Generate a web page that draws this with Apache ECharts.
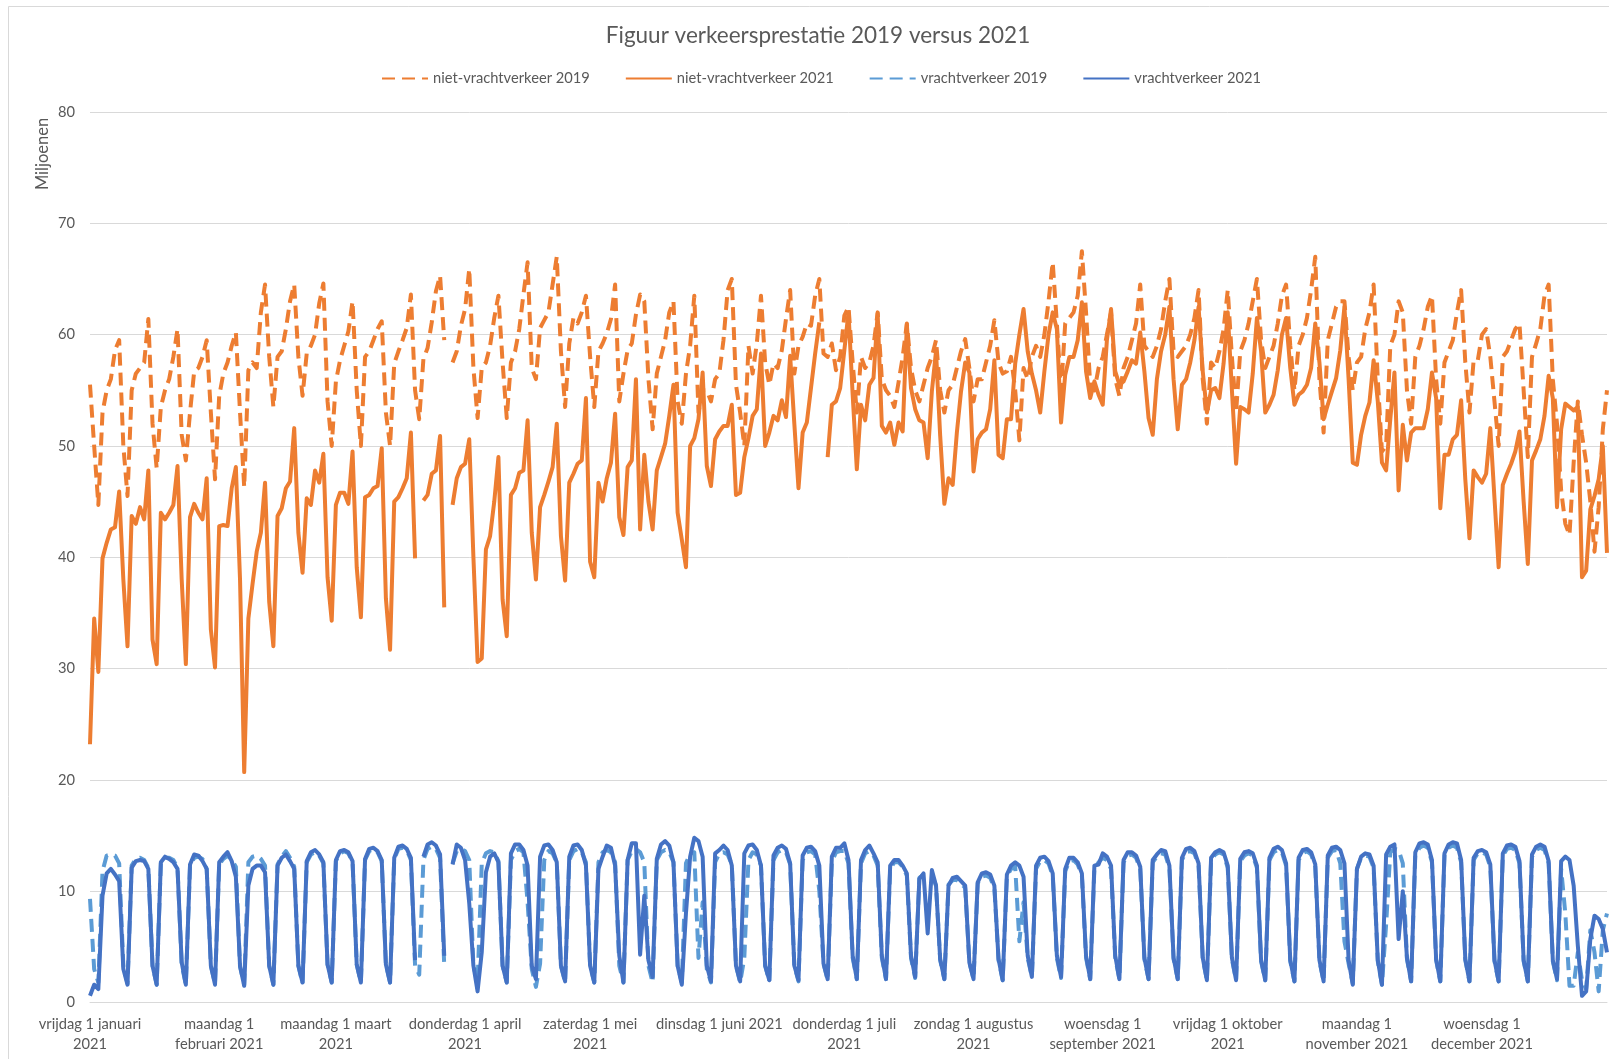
<!DOCTYPE html>
<html><head><meta charset="utf-8">
<script src="https://cdn.jsdelivr.net/npm/echarts@6/dist/echarts.min.js"></script>
<style>html,body{margin:0;padding:0;background:#fff}#c{width:1609px;height:1059px}</style>
</head><body><div id="c"></div>
<script>
const chartTitle = 'Figuur verkeersprestatie 2019 versus 2021';
const yAxisName = 'Miljoenen';
const seriesNames = ['niet-vrachtverkeer 2019', 'niet-vrachtverkeer 2021', 'vrachtverkeer 2019', 'vrachtverkeer 2021'];
const monthLabels = [
  'vrijdag 1 januari\n2021', 'maandag 1\nfebruari 2021', 'maandag 1 maart\n2021', 'donderdag 1 april\n2021',
  'zaterdag 1 mei\n2021', 'dinsdag 1 juni 2021', 'donderdag 1 juli\n2021', 'zondag 1 augustus\n2021',
  'woensdag 1\nseptember 2021', 'vrijdag 1 oktober\n2021', 'maandag 1\nnovember 2021', 'woensdag 1\ndecember 2021'
];
const yTicks = { min: 0, max: 80, step: 10 };

// one value per day of 2021 (1 jan .. 31 dec); rows are Monday..Sunday weeks
const nietVracht2019 = [55.5,50.0,44.7,
53.0,55.0,56.0,58.6,59.5,50.0,45.5,
55.0,56.5,57.0,57.5,61.4,52.0,48.0,
53.5,55.0,56.0,58.0,60.5,51.0,48.7,
53.0,56.7,57.0,58.0,59.5,53.0,47.0,
54.5,56.5,57.5,59.0,60.2,53.0,46.3,
56.8,57.5,57.0,62.0,64.5,58.0,53.5,
58.0,58.5,60.5,63.0,64.5,58.0,54.5,
58.3,59.0,60.0,62.8,64.6,54.0,50.0,
55.8,57.7,59.0,60.3,63.0,55.0,50.0,
58.0,58.5,59.5,60.5,61.2,53.0,50.0,
57.4,58.5,59.5,60.6,63.6,55.0,52.4,
57.8,58.8,61.1,63.9,65.3,59.5,null,
57.5,58.5,60.8,62.3,65.9,57.0,52.5,
57.0,57.5,59.0,61.5,63.5,57.5,52.5,
57.5,58.5,60.5,63.6,66.5,57.0,56.0,
60.6,61.3,62.0,64.5,67.0,58.5,53.5,
59.2,61.5,61.0,62.0,63.5,58.0,53.5,
58.5,59.2,60.1,61.4,64.5,54.0,56.5,
58.6,59.2,61.8,63.6,63.0,56.0,51.5,
56.5,58.0,59.5,62.0,63.0,54.0,52.0,
56.5,59.0,63.5,53.0,55.0,55.0,54.0,
56.0,56.5,59.5,64.0,65.0,55.5,53.0,
50.0,59.0,56.5,59.2,63.5,57.5,55.5,
57.4,57.0,58.6,61.4,64.0,56.5,59.0,
59.8,61.0,60.8,63.5,65.0,58.3,58.0,
59.2,56.8,58.0,61.7,62.5,57.5,53.0,
58.0,57.0,57.5,59.0,62.0,56.0,55.0,
54.5,53.5,55.7,58.0,61.0,57.0,55.0,
54.0,55.5,57.0,58.0,59.5,55.0,53.0,
55.0,55.5,57.0,58.5,59.6,57.0,54.0,
56.0,56.0,57.5,59.0,61.3,57.5,56.5,
56.7,58.0,55.0,50.5,57.0,56.0,58.0,
59.0,58.0,60.0,63.0,66.5,61.0,55.0,
61.0,61.5,62.0,63.5,67.5,62.0,55.5,
55.0,57.0,58.0,60.0,62.0,56.0,54.5,
57.0,58.0,59.5,61.0,64.5,59.0,58.5,
58.0,59.0,60.5,63.0,65.0,58.5,58.0,
58.5,59.0,60.0,61.5,64.0,56.0,52.0,
57.5,57.0,58.5,60.5,64.0,58.0,53.0,
58.5,59.5,61.0,63.0,65.0,59.5,57.0,
58.0,59.0,61.0,63.5,64.5,59.0,55.0,
59.0,60.0,61.5,64.0,67.0,56.0,51.2,
59.5,61.0,62.5,63.0,63.0,58.0,55.0,
57.5,58.0,60.5,62.0,64.5,56.0,49.5,
50.0,59.0,60.0,63.0,62.0,55.0,52.0,
58.0,59.0,60.5,62.5,63.5,56.0,52.0,
57.5,58.5,59.5,62.0,64.0,57.5,53.0,
57.7,57.7,60.0,60.5,58.0,54.0,50.0,
58.0,58.5,59.5,60.5,61.0,55.0,49.0,
58.0,59.2,60.5,63.5,64.5,56.0,52.0,
46.0,43.0,42.0,48.5,54.0,51.0,48.5,
45.0,40.5,44.5,51.5,55.0];

const nietVracht2021 = [23.2,34.5,29.7,
39.9,41.3,42.5,42.7,45.9,38.0,32.0,
43.7,43.0,44.5,43.4,47.8,32.6,30.4,
44.0,43.4,44.0,44.7,48.2,38.0,30.4,
43.6,44.8,44.0,43.4,47.1,33.5,30.1,
42.8,42.9,42.8,46.2,48.1,38.0,20.7,
34.5,37.6,40.5,42.2,46.7,36.0,32.0,
43.7,44.4,46.2,46.8,51.6,42.2,38.6,
45.3,44.7,47.8,46.7,49.3,38.2,34.3,
44.7,45.8,45.8,44.8,49.5,39.1,34.6,
45.4,45.6,46.2,46.4,49.8,36.3,31.7,
45.0,45.4,46.2,47.1,51.2,39.9,null,
45.1,45.6,47.5,47.8,50.9,35.5,null,
44.7,47.1,48.1,48.4,50.6,40.0,30.6,
30.9,40.7,41.9,45.0,49.0,36.2,32.9,
45.6,46.2,47.6,47.8,52.3,42.2,38.0,
44.5,45.6,46.8,48.1,52.0,41.9,37.9,
46.7,47.5,48.4,48.7,54.3,39.6,38.2,
46.7,45.0,47.1,48.5,52.9,43.6,42.0,
48.1,48.7,56.0,42.5,49.2,45.0,42.5,
47.8,49.0,50.2,52.7,55.5,44.0,41.6,
39.1,50.0,50.7,52.4,56.6,48.2,46.4,
50.6,51.3,51.8,51.8,53.7,45.6,45.8,
49.0,50.7,52.7,53.3,58.3,50.0,51.2,
52.7,52.3,54.1,52.6,58.1,52.0,46.2,
51.2,52.1,55.2,58.3,61.1,null,49.0,
53.7,54.0,55.2,58.6,62.0,54.6,47.9,
53.7,52.3,55.5,56.1,61.9,51.8,51.2,
52.1,50.1,52.1,51.3,60.9,55.2,53.3,
52.3,52.1,48.9,54.9,58.5,50.9,44.8,
47.1,46.5,51.2,54.9,57.5,56.6,47.7,
50.6,51.2,51.5,53.3,57.7,49.2,48.9,
52.4,52.4,57.4,60.0,62.3,58.5,56.5,
55.0,53.0,56.7,60.0,62.0,60.5,52.1,
56.4,58.0,58.0,59.5,62.9,56.7,54.3,
55.8,54.6,53.7,59.5,62.3,56.7,55.5,
55.8,56.7,57.7,57.4,60.2,56.7,52.5,
51.0,56.0,58.5,60.0,62.5,56.0,51.5,
55.5,56.0,57.5,59.5,62.5,56.7,53.0,
55.0,55.2,54.3,57.4,62.0,55.0,48.4,
53.5,53.3,53.0,56.5,61.5,58.5,53.0,
53.7,54.6,56.8,60.0,61.5,57.0,53.7,
54.6,54.9,55.5,57.0,61.0,57.5,52.4,
53.7,54.9,56.1,58.6,62.5,56.0,48.5,
48.3,51.0,52.7,53.9,57.7,54.0,48.5,
47.8,52.4,56.6,46.0,51.9,48.7,51.2,
51.6,51.6,51.6,53.3,56.6,54.3,44.4,
49.2,49.2,50.6,51.0,54.1,47.0,41.7,
47.8,47.2,46.7,47.5,51.6,45.3,39.1,
46.5,47.5,48.4,49.5,51.3,45.0,39.4,
48.7,49.6,50.6,52.7,56.3,54.3,44.5,
51.5,53.8,53.5,53.2,53.5,38.2,38.8,
44.3,45.5,47.0,50.0,40.4];

const vracht2019 = [9.3,3.0,1.8,
11.8,13.2,13.3,13.2,12.5,3.3,1.7,
12.3,12.9,13.0,12.8,12.1,3.3,1.6,
12.5,13.0,13.0,12.8,12.1,3.4,1.6,
12.3,13.0,13.1,12.9,12.0,3.3,1.7,
12.4,12.9,13.2,12.8,12.2,3.2,1.6,
12.6,13.1,13.2,12.9,12.3,3.3,1.6,
12.4,13.1,13.6,13.0,12.2,3.3,1.7,
12.6,13.3,13.5,13.2,12.5,3.4,1.8,
12.7,13.4,13.6,13.4,12.6,3.4,1.8,
12.8,13.6,13.8,13.5,12.7,3.4,1.8,
12.9,13.8,13.9,13.7,12.8,3.3,2.5,
12.8,13.8,14.0,13.8,13.0,3.3,null,
12.5,13.6,13.8,13.6,12.8,3.3,1.8,
12.5,13.4,13.6,13.5,12.7,3.3,1.8,
12.8,13.6,13.8,13.5,9.0,3.0,1.4,
3.5,12.8,13.6,13.4,12.6,3.3,1.8,
12.8,13.6,13.8,13.5,12.6,3.3,1.8,
12.6,13.5,13.7,13.5,12.6,3.3,1.8,
12.8,13.6,13.8,13.5,12.6,3.3,1.8,
12.8,13.5,13.7,13.5,12.6,3.3,1.8,
12.5,13.4,13.5,4.0,9.0,3.0,1.8,
12.6,13.4,13.5,13.3,12.4,3.3,1.8,
4.0,12.8,13.5,13.3,12.3,3.3,1.9,
12.8,13.5,13.7,13.5,12.4,3.3,1.9,
12.8,13.5,13.6,13.3,10.0,3.5,2.0,
12.6,13.5,13.6,13.6,12.5,4.0,2.1,
12.5,13.4,13.6,13.2,12.3,4.0,2.1,
12.0,12.6,12.6,12.2,11.4,4.0,2.2,
11.2,11.5,11.6,11.5,10.5,3.8,2.1,
10.6,11.0,11.0,10.7,10.3,3.6,2.1,
10.7,11.3,11.4,11.2,10.3,3.8,2.0,
11.3,12.0,12.2,5.5,9.0,4.0,2.3,
12.0,12.7,12.8,12.5,11.4,4.0,2.2,
11.8,12.7,12.8,12.4,11.4,4.0,2.1,
12.0,12.6,13.0,12.8,12.0,4.0,2.1,
12.6,13.2,13.3,13.0,12.0,3.9,2.1,
12.6,13.1,13.4,13.3,12.1,3.9,2.1,
12.8,13.5,13.6,13.4,12.3,3.9,2.0,
12.7,13.3,13.5,13.3,12.1,3.9,2.0,
12.7,13.2,13.4,13.2,12.1,3.7,2.0,
12.8,13.5,13.7,13.5,12.3,3.7,1.9,
12.8,13.4,13.6,13.3,12.2,3.7,1.9,
13.0,13.6,13.7,12.5,5.5,3.5,1.7,
12.0,13.0,13.2,13.1,12.1,3.7,1.6,
7.0,13.5,13.8,13.7,12.5,3.9,1.9,
13.2,13.9,14.1,13.9,12.6,3.8,1.9,
13.2,13.9,14.1,13.9,12.6,3.8,1.9,
12.8,13.4,13.5,13.3,12.2,3.7,1.9,
13.2,13.8,13.9,13.7,12.5,3.7,1.9,
13.1,13.7,13.9,13.7,12.5,3.7,2.0,
12.0,8.0,1.5,1.5,4.5,2.0,1.2,
6.5,4.5,1.0,6.5,8.0];

const vracht2021 = [0.6,1.6,1.2,
9.6,11.6,12.0,11.5,10.9,3.0,1.6,
12.1,12.7,12.8,12.7,12.0,3.3,1.6,
12.6,13.1,12.9,12.6,12.0,3.6,1.6,
12.4,13.3,13.2,12.7,12.0,3.3,1.6,
12.6,13.1,13.5,12.7,11.3,3.3,1.5,
10.5,12.0,12.3,12.3,11.7,3.3,1.6,
12.3,13.0,13.3,12.7,12.0,3.3,1.8,
12.7,13.5,13.7,13.3,12.6,3.4,1.8,
12.8,13.6,13.7,13.5,12.7,3.4,1.8,
12.9,13.8,13.9,13.6,12.8,3.4,1.8,
13.0,14.0,14.1,13.8,13.0,3.8,null,
13.1,14.2,14.4,14.1,13.3,4.2,null,
12.4,14.2,13.9,12.8,8.9,3.3,1.0,
4.5,11.7,13.1,13.4,12.6,3.3,1.8,
13.4,14.2,14.2,13.7,12.3,3.3,2.1,
13.1,14.1,14.2,13.7,12.6,3.3,1.9,
13.1,14.1,14.2,13.7,12.3,3.3,1.8,
12.0,13.1,14.1,13.9,12.3,4.2,1.8,
12.8,14.3,14.3,4.3,9.6,3.8,2.3,
12.9,14.2,14.5,14.1,12.6,3.3,1.6,
8.0,13.1,14.8,14.5,13.1,3.3,1.9,
13.4,13.7,14.1,13.7,12.3,3.3,1.9,
13.4,14.1,14.2,13.7,12.3,3.3,2.0,
13.2,13.9,14.1,13.8,12.5,3.3,2.0,
13.2,13.9,14.0,13.6,12.3,3.5,2.1,
13.1,13.9,13.9,14.3,12.8,4.2,2.1,
12.8,13.7,14.1,13.4,12.6,4.2,2.1,
12.3,12.8,12.8,12.3,11.6,4.2,2.3,
11.1,11.6,6.2,11.9,10.5,3.9,2.1,
10.5,11.2,11.3,10.9,10.5,3.6,2.1,
10.8,11.6,11.7,11.5,10.5,3.9,2.0,
11.5,12.3,12.6,12.3,11.3,4.2,2.3,
12.3,13.0,13.1,12.7,11.6,4.2,2.3,
12.0,13.0,13.0,12.6,11.6,4.2,2.1,
12.3,12.4,13.4,13.1,12.3,4.2,2.1,
12.8,13.5,13.5,13.2,12.2,4.0,2.1,
12.8,13.3,13.7,13.6,12.3,4.0,2.1,
13.0,13.8,13.9,13.6,12.5,4.0,2.0,
13.0,13.5,13.7,13.5,12.3,4.0,2.0,
12.9,13.5,13.6,13.4,12.3,3.8,2.0,
13.0,13.8,14.0,13.7,12.5,3.8,1.9,
13.0,13.7,13.8,13.5,12.4,3.8,1.9,
13.2,13.9,14.0,13.7,12.5,3.8,1.6,
12.0,13.1,13.4,13.3,12.3,3.8,1.6,
13.3,14.0,14.2,5.7,10.0,4.0,1.9,
13.5,14.3,14.4,14.2,12.8,3.9,1.9,
13.4,14.2,14.4,14.3,12.8,3.9,1.9,
13.0,13.6,13.7,13.5,12.4,3.8,1.9,
13.4,14.1,14.2,14.0,12.7,3.8,1.9,
13.3,14.0,14.2,14.0,12.7,3.8,2.1,
12.7,13.1,12.8,10.5,5.1,0.6,1.0,
5.7,7.8,7.5,6.6,4.5];

// category axis: the days of 2021
const categories = [];
for (let i = 0; i < nietVracht2021.length; i++) {
  const d = new Date(Date.UTC(2021, 0, 1 + i));
  categories.push(d.toISOString().slice(0, 10));
}

const FONT = 'Lato, "Open Sans", sans-serif';
const TXT = '#595959';
const ORANGE = '#ED7D31', BLUE_LIGHT = '#5B9BD5', BLUE = '#4472C4';
const dash = [13, 7];

function mkSeries(name, data, color, dashed) {
  return {
    name: name, type: 'line', data: data, symbol: 'none', showSymbol: false,
    connectNulls: false, smooth: false,
    lineStyle: { color: color, width: 4, type: dashed ? dash : 'solid', cap: 'butt', join: 'round' },
    itemStyle: { color: color },
    emphasis: { disabled: true }
  };
}

const chart = echarts.init(document.getElementById('c'), null, { renderer: 'canvas' });
chart.setOption({
  animation: false,
  backgroundColor: '#ffffff',
  textStyle: { fontFamily: FONT },
  graphic: [
    { type: 'rect', silent: true, shape: { x: 8.5, y: 6.5, width: 1700, height: 1100 },
      style: { fill: 'none', stroke: '#d9d9d9', lineWidth: 1 } },
    { type: 'text', silent: true, x: 818, y: 36,
      style: { text: chartTitle, textAlign: 'center', textVerticalAlign: 'middle',
               fontFamily: FONT, fontSize: 22.5, fill: TXT } },
    { type: 'text', silent: true, x: 43, y: 154, rotation: Math.PI / 2,
      style: { text: yAxisName, textAlign: 'center', textVerticalAlign: 'middle',
               fontFamily: FONT, fontSize: 16.5, fill: TXT } }
  ],
  legend: {
    data: seriesNames, top: 66, left: 376, itemWidth: 46, itemHeight: 14, itemGap: 35,
    itemStyle: { opacity: 0 },
    textStyle: { fontFamily: FONT, fontSize: 14.7, color: TXT }, selectedMode: false
  },
  grid: { left: 90, right: 2, top: 112, bottom: 56.5, containLabel: false },
  xAxis: {
    type: 'category', data: categories, boundaryGap: false,
    axisLine: { show: true, lineStyle: { color: '#d9d9d9', width: 1 } },
    axisTick: { show: false },
    splitLine: { show: false },
    axisLabel: {
      interval: function (idx, val) { return val.slice(8, 10) === '01'; },
      formatter: function (val) { return monthLabels[parseInt(val.slice(5, 7), 10) - 1]; },
      color: TXT, fontFamily: FONT, fontSize: 14.7, lineHeight: 20, margin: 12, align: 'center'
    }
  },
  yAxis: {
    type: 'value', min: yTicks.min, max: yTicks.max, interval: yTicks.step,
    axisLine: { show: false }, axisTick: { show: false },
    axisLabel: { color: TXT, fontFamily: FONT, fontSize: 14.7, margin: 15 },
    splitLine: { lineStyle: { color: '#d9d9d9', width: 1 } }
  },
  series: [
    mkSeries(seriesNames[0], nietVracht2019, ORANGE, true),
    mkSeries(seriesNames[1], nietVracht2021, ORANGE, false),
    mkSeries(seriesNames[2], vracht2019, BLUE_LIGHT, true),
    mkSeries(seriesNames[3], vracht2021, BLUE, false)
  ]
});
</script>
</body></html>
